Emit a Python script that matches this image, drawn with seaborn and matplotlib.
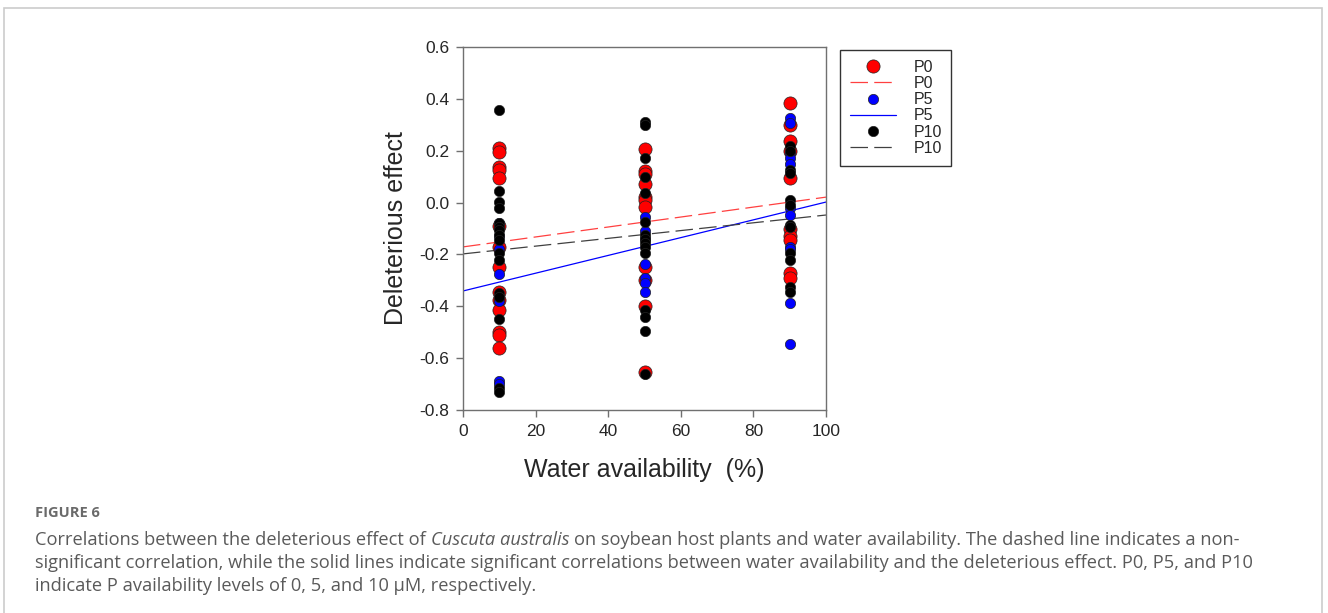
import numpy as np
import pandas as pd
import seaborn as sns
import matplotlib.pyplot as plt
from matplotlib.lines import Line2D
from matplotlib.patches import Rectangle

# values
water_levels = [10, 50, 90]
p0_values = [
    [0.21, 0.195, 0.137, 0.125, 0.095, -0.09, -0.17, -0.25, -0.345, -0.375, -0.415, -0.50, -0.51, -0.56],
    [0.207, 0.12, 0.11, 0.07, 0.02, 0.01, -0.017, -0.25, -0.30, -0.40, -0.655],
    [0.384, 0.30, 0.237, 0.20, 0.095, -0.10, -0.13, -0.145, -0.27, -0.29],
]
p5_values = [
    [-0.08, -0.13, -0.18, -0.275, -0.38, -0.69, -0.70],
    [-0.056, -0.11, -0.14, -0.237, -0.29, -0.31, -0.345],
    [0.326, 0.307, 0.19, 0.17, 0.15, -0.02, -0.048, -0.17, -0.18, -0.387, -0.545],
]
p10_values = [
    [0.357, 0.045, 0.002, -0.02, -0.08, -0.095, -0.105, -0.125, -0.145, -0.195, -0.22, -0.35, -0.365, -0.45, -0.715, -0.73],
    [0.31, 0.30, 0.17, 0.10, 0.037, -0.075, -0.125, -0.14, -0.155, -0.17, -0.195, -0.415, -0.44, -0.495, -0.66],
    [0.22, 0.20, 0.126, 0.115, 0.01, -0.01, -0.087, -0.095, -0.195, -0.22, -0.325, -0.345],
]
groups = ["P0", "P5", "P10"]
intercepts = [-0.171, -0.341, -0.198]
slopes = [0.00192, 0.00343, 0.0015]
y_ticks = [-0.8, -0.6, -0.4, -0.2, 0.0, 0.2, 0.4, 0.6]

colors = {"P0": "#ff0000", "P5": "#0000ff", "P10": "#000000"}
sizes = {"P0": 90, "P5": 55, "P10": 55}
line_styles = {"P0": (0, (14, 5)), "P5": "-", "P10": (0, (14, 5))}
line_colors = {"P0": "#ff4040", "P5": "#0000ff", "P10": "#404040"}

rows = []
for g, vals in zip(groups, [p0_values, p5_values, p10_values]):
    for w, col in zip(water_levels, vals):
        for v in col:
            rows.append({"Group": g, "Water": w, "Effect": v})
df = pd.DataFrame(rows)

sns.set_style("white")
plt.rcParams["font.family"] = ["Liberation Sans", "DejaVu Sans"]

fig = plt.figure(figsize=(13.28, 6.13), dpi=100)
ax = fig.add_axes([463 / 1328, 1 - 410 / 613, 363 / 1328, 363 / 613])

xs = np.array([0, 100])
for g, b, m in zip(groups, intercepts, slopes):
    ax.plot(xs, b + m * xs, color=line_colors[g], linestyle=line_styles[g], lw=0.9, zorder=1)

for g in groups:
    sub = df[df["Group"] == g]
    sns.scatterplot(data=sub, x="Water", y="Effect", color=colors[g], s=sizes[g],
                    edgecolor="#222222", linewidth=0.5, ax=ax, zorder=2, legend=False)

ax.set_xlim(0, 100)
ax.set_ylim(-0.8, 0.6)
ax.set_xticks([0, 20, 40, 60, 80, 100])
ax.set_yticks(y_ticks)
ax.set_yticklabels([f"{t:.1f}" for t in y_ticks])
for s in ax.spines.values():
    s.set_color("#707070")
    s.set_linewidth(1.0)
    s.set_visible(True)
ax.tick_params(axis="both", direction="out", length=5, width=1, color="#707070",
               labelsize=12.5, bottom=True, left=True, top=False, right=False, pad=5)
ax.set_xlabel("Water availability  (%)", fontsize=18, labelpad=14)
ax.set_ylabel("Deleterious effect", fontsize=18, labelpad=8)

handles = []
for g in groups:
    handles.append(Line2D([], [], marker="o", color="none", markerfacecolor=colors[g],
                          markeredgecolor="#222222", markeredgewidth=0.5,
                          markersize=np.sqrt(sizes[g]), label=g))
    handles.append(Line2D([], [], color=line_colors[g], linestyle=line_styles[g], lw=0.9, label=g))
leg = fig.legend(handles=handles, loc="upper left", bbox_to_anchor=(840 / 1328, 1 - 50 / 613),
                 borderaxespad=0, frameon=True, fancybox=False, fontsize=11.5, handlelength=2.9,
                 labelspacing=0.08, borderpad=0.6, handletextpad=1.1)
leg.get_frame().set_edgecolor("black")
leg.get_frame().set_linewidth(1.0)

# page border
fig.patches.append(Rectangle((4 / 1328, -0.05), 1318 / 1328, 1.05 - 8 / 613, transform=fig.transFigure,
                             fill=False, edgecolor="#cccccc", linewidth=1.2))

# caption
cap_font = ["Open Sans", "DejaVu Sans"]
cap_color = "#5a5a5a"
fig.text(35 / 1328, 1 - 513 / 613, "FIGURE 6", fontsize=10.5, fontweight="bold", color="#6a6a6a",
         family=cap_font, va="center")

fig.canvas.draw()
renderer = fig.canvas.get_renderer()
cap_size = 13.15
probe1 = fig.text(0, 0, "x x", fontsize=cap_size, family=cap_font)
probe2 = fig.text(0, 0, "xx", fontsize=cap_size, family=cap_font)
space_w = (probe1.get_window_extent(renderer).width - probe2.get_window_extent(renderer).width) / fig.bbox.width
probe1.remove()
probe2.remove()

y1 = 1 - 540 / 613
x0 = 35 / 1328
t1 = fig.text(x0, y1, "Correlations between the deleterious effect of", fontsize=cap_size,
              family=cap_font, color=cap_color, va="center")
w1 = t1.get_window_extent(renderer).width / fig.bbox.width
t2 = fig.text(x0 + w1 + space_w, y1, "Cuscuta australis", fontsize=cap_size, style="italic",
              family=cap_font, color=cap_color, va="center")
w2 = t2.get_window_extent(renderer).width / fig.bbox.width
fig.text(x0 + w1 + w2 + 2 * space_w, y1,
         "on soybean host plants and water availability. The dashed line indicates a non-",
         fontsize=cap_size, family=cap_font, color=cap_color, va="center")
fig.text(x0, 1 - 563 / 613,
         "significant correlation, while the solid lines indicate significant correlations between water availability and the deleterious effect. P0, P5, and P10",
         fontsize=cap_size, family=cap_font, color=cap_color, va="center")
fig.text(x0, 1 - 586 / 613, "indicate P availability levels of 0, 5, and 10 \u00b5M, respectively.",
         fontsize=cap_size, family=cap_font, color=cap_color, va="center")

fig.savefig("out.png", dpi=100)
